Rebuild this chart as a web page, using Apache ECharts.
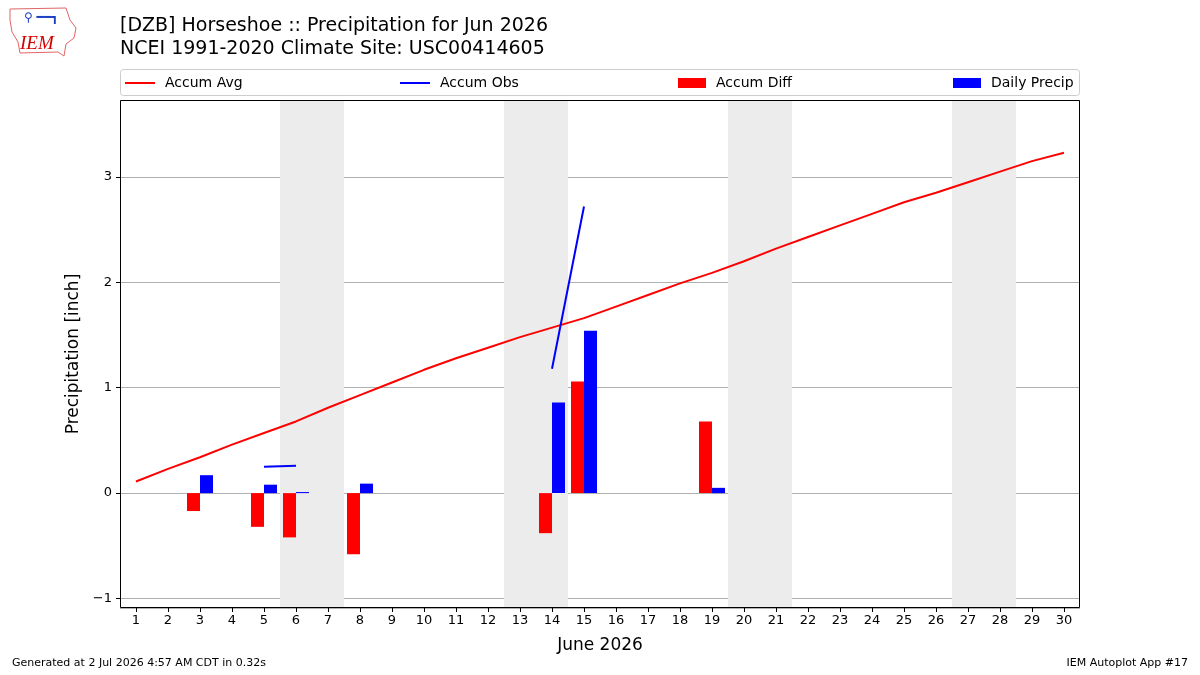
<!DOCTYPE html>
<html>
<head>
<meta charset="utf-8">
<script src="https://cdn.jsdelivr.net/npm/echarts@6/dist/echarts.min.js"></script>
<style>
html, body { margin: 0; padding: 0; background: #fff; }
#chart { width: 1200px; height: 675px; }
</style>
</head>
<body>
<div id="chart"></div>
<script>
// days of June 2026
const days = ['1', '2', '3', '4', '5', '6', '7', '8', '9', '10', '11', '12', '13', '14', '15',
    '16', '17', '18', '19', '20', '21', '22', '23', '24', '25', '26', '27', '28', '29', '30'];
const accumAvg = [0.11, 0.23, 0.34, 0.46, 0.57, 0.68, 0.81, 0.93, 1.05, 1.17, 1.28, 1.38, 1.48, 1.57, 1.66,
    1.77, 1.88, 1.99, 2.09, 2.20, 2.32, 2.43, 2.54, 2.65, 2.76, 2.85, 2.95, 3.05, 3.15, 3.23];
const accumObs = [null, null, null, null, 0.25, 0.26, null, null, null, null, null, null, null, 1.18, 2.72,
    null, null, null, null, null, null, null, null, null, null, null, null, null, null, null];
const accumDiff = [null, null, -0.17, null, -0.32, -0.42, null, -0.58, null, null, null, null, null, -0.38, 1.06,
    null, null, null, 0.68, null, null, null, null, null, null, null, null, null, null, null];
const dailyPrecip = [null, null, 0.17, null, 0.08, 0.01, null, 0.09, null, null, null, null, null, 0.86, 1.54,
    null, null, null, 0.05, null, null, null, null, null, null, null, null, null, null, null];
// weekend spans (Sat-Sun)
const weekends = [[5.5, 7.5], [12.5, 14.5], [19.5, 21.5], [26.5, 28.5]];

const font = 'DejaVu Sans';
let chart = echarts.init(document.getElementById('chart'));

let legendItems = [
    { name: 'Accum Avg', left: 120, icon: 'rect', w: 30, h: 2 },
    { name: 'Accum Obs', left: 395, icon: 'rect', w: 30, h: 2 },
    { name: 'Accum Diff', left: 673, icon: 'rect', w: 28, h: 10 },
    { name: 'Daily Precip', left: 948, icon: 'rect', w: 28, h: 10 }
];

let option = {
    animation: false,
    backgroundColor: '#fff',
    title: {
        text: '[DZB] Horseshoe :: Precipitation for Jun 2026\nNCEI 1991-2020 Climate Site: USC00414605',
        left: 120,
        top: 15,
        padding: 0,
        textStyle: { fontFamily: font, fontSize: 19, fontWeight: 'normal', color: '#000', lineHeight: 23 }
    },
    legend: legendItems.map(item => ({
        data: [item.name],
        left: item.left,
        top: 71,
        icon: item.icon,
        itemWidth: item.w,
        itemHeight: item.h,
        textStyle: { fontFamily: font, fontSize: 14, color: '#000', padding: [0, 0, 0, 5] }
    })),
    graphic: [
        {
            type: 'rect',
            shape: { x: 120.5, y: 69.5, width: 959, height: 26, r: 3 },
            style: { fill: 'none', stroke: '#cccccc', lineWidth: 1 },
            z: -1
        },
        {
            type: 'rect',
            shape: { x: 120.5, y: 100.5, width: 959, height: 507 },
            style: { fill: 'none', stroke: '#000', lineWidth: 1 },
            z: 50
        },
        {
            type: 'polygon',
            shape: { points: [[10, 9], [66, 8], [70, 20], [76, 28], [74, 38], [66, 44], [64, 56], [58, 52], [20, 53], [18, 42], [12, 32], [10, 20]] },
            style: { fill: '#fff', stroke: '#e06666', lineWidth: 1 }
        },
        {
            type: 'text',
            left: 20,
            top: 34,
            style: { text: 'IEM', fontFamily: 'Liberation Serif', fontStyle: 'italic', fontSize: 19, fill: '#d40000' }
        },
        {
            type: 'text',
            left: 24,
            top: 12,
            style: { text: '⚲ ━━┓', fontFamily: font, fontSize: 12, fill: '#1a3fc4' }
        },
        {
            type: 'text',
            left: 12,
            top: 658,
            style: { text: 'Generated at 2 Jul 2026 4:57 AM CDT in 0.32s', fontFamily: font, fontSize: 11, fill: '#000' }
        },
        {
            type: 'text',
            right: 12,
            top: 658,
            style: { text: 'IEM Autoplot App #17', fontFamily: font, fontSize: 11, fill: '#000' }
        }
    ],
    grid: {
        left: 120,
        right: 120,
        top: 100,
        bottom: 67,
        show: false
    },
    xAxis: [
        {
            type: 'category',
            data: days,
            boundaryGap: true,
            name: 'June 2026',
            nameLocation: 'middle',
            nameGap: 29,
            nameTextStyle: { fontFamily: font, fontSize: 17, color: '#000' },
            axisLine: { show: false, onZero: false },
            axisTick: { show: true, alignWithLabel: true, length: 4, lineStyle: { color: '#000' } },
            axisLabel: { fontFamily: font, fontSize: 13, color: '#000', margin: 6, interval: 0 },
            splitLine: { show: false }
        },
        {
            type: 'value',
            min: 0.5,
            max: 30.5,
            show: false
        }
    ],
    yAxis: {
        type: 'value',
        min: -1.09,
        max: 3.73,
        splitNumber: 5,
        name: 'Precipitation [inch]',
        nameLocation: 'middle',
        nameGap: 38,
        nameTextStyle: { fontFamily: font, fontSize: 17, color: '#000' },
        axisLine: { show: false },
        axisTick: { show: true, length: 4, lineStyle: { color: '#000' } },
        axisLabel: {
            fontFamily: font,
            fontSize: 13,
            color: '#000',
            margin: 8,
            showMinLabel: false,
            showMaxLabel: false,
            formatter: v => (Number.isInteger(v) ? String(v).replace('-', '\u2212') : '')
        },
        splitLine: { show: true, lineStyle: { color: '#b0b0b0', width: 1 } }
    },
    series: [
        {
            name: 'weekends',
            type: 'line',
            xAxisIndex: 1,
            data: [],
            z: -1,
            silent: true,
            markArea: {
                silent: true,
                itemStyle: { color: '#ececec' },
                data: weekends.map(w => [{ xAxis: w[0] }, { xAxis: w[1] }])
            }
        },
        {
            name: 'Accum Avg',
            type: 'line',
            data: accumAvg,
            symbol: 'none',
            lineStyle: { color: '#ff0000', width: 2 },
            itemStyle: { color: '#ff0000' },
            z: 4
        },
        {
            name: 'Accum Obs',
            type: 'line',
            data: accumObs,
            symbol: 'none',
            connectNulls: false,
            lineStyle: { color: '#0000ff', width: 2 },
            itemStyle: { color: '#0000ff' },
            z: 4
        },
        {
            name: 'Accum Diff',
            type: 'bar',
            data: accumDiff,
            barWidth: 13,
            barGap: '0%',
            itemStyle: { color: '#ff0000' },
            z: 3
        },
        {
            name: 'Daily Precip',
            type: 'bar',
            data: dailyPrecip,
            barWidth: 13,
            barGap: '0%',
            itemStyle: { color: '#0000ff' },
            z: 3
        }
    ]
};
chart.setOption(option);
window.addEventListener('resize', () => {
    chart.resize();
});
</script>
</body>
</html>
